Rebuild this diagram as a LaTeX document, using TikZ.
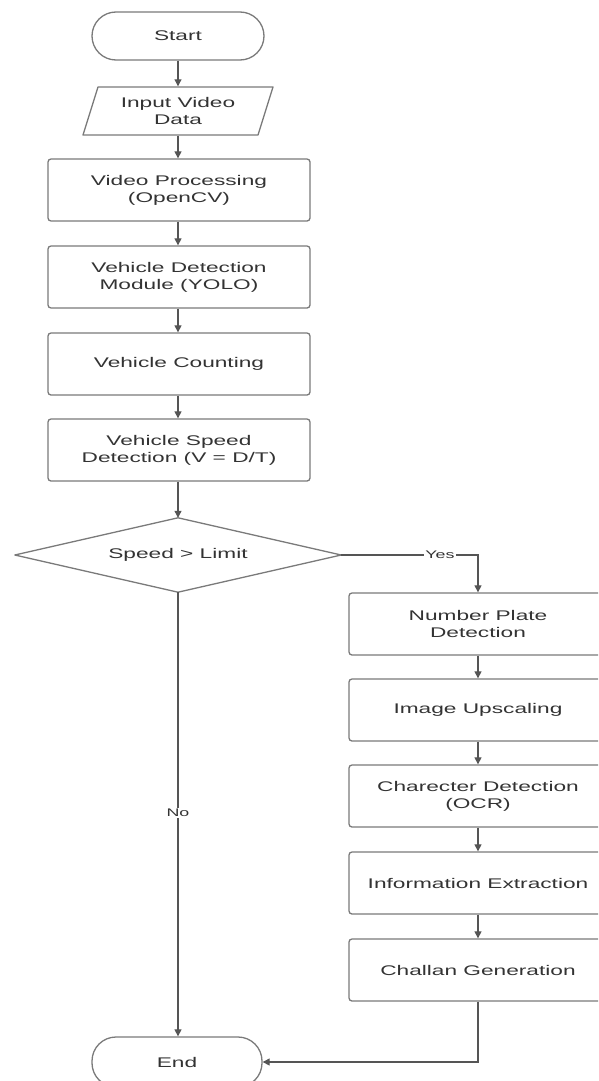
\documentclass[tikz,border=0pt]{standalone}
\usepackage{fontspec}
\setmainfont{Liberation Sans}[FakeStretch=1.62]
\usetikzlibrary{arrows.meta}
\definecolor{edge}{HTML}{7A7A7A}
\definecolor{wire}{HTML}{555555}
\definecolor{ink}{HTML}{333333}
\begin{document}
\begin{tikzpicture}[x=1pt,y=-1pt,
  every node/.style={font=\fontsize{14}{17}\selectfont, text=ink, align=center, inner sep=0pt},
  proc/.style={draw=edge, line width=1.3pt, rounded corners=3pt, minimum height=62pt},
  lproc/.style={proc, minimum width=262pt},
  rproc/.style={proc, minimum width=258pt},
  term/.style={draw=edge, line width=1.3pt, rounded corners=24pt, minimum width=172pt, minimum height=48pt},
  conn/.style={draw=wire, line width=1.1pt, -{Triangle[length=7pt,width=7pt]}},
  lbl/.style={fill=white, inner sep=1.5pt, font=\fontsize{11}{13}\selectfont}
]
\useasboundingbox (0,0) rectangle (598,1081);
\clip (0,0) rectangle (598,1081);
\node[term] (start) at (178,36) {Start};
\node[minimum width=180pt, minimum height=49pt] (input) at (178,111) {Input Video\\Data};
\draw[edge, line width=1.3pt, line join=round] (98,87) -- (273,87) -- (258,135) -- (83,135) -- cycle;
\node[lproc] (vp) at (179,190) {Video Processing\\(OpenCV)};
\node[lproc] (vd) at (179,277) {Vehicle Detection\\Module (YOLO)};
\node[lproc] (vc) at (179,364) {Vehicle Counting};
\node[lproc] (vs) at (179,450) {Vehicle Speed\\Detection (V = D/T)};
\node[minimum width=326pt, minimum height=74pt] (dec) at (178,555) {Speed > Limit};
\draw[edge, line width=1.3pt, line join=round] (dec.north) -- (dec.east) -- (dec.south) -- (dec.west) -- cycle;
\node[rproc] (np) at (478,624) {Number Plate\\Detection};
\node[rproc] (iu) at (478,710) {Image Upscaling};
\node[rproc] (cd) at (478,796) {Charecter Detection\\(OCR)};
\node[rproc] (ie) at (478,883) {Information Extraction};
\node[rproc] (cg) at (478,970) {Challan Generation};
\node[term, minimum width=170pt, minimum height=50pt] (end) at (177,1062) {End};
\coordinate (yk) at (478,555);
\coordinate (ck) at (478,1062);

\draw[conn] (start) -- (start|-input.north);
\draw[conn] (input.south) -- (input.south|-vp.north);
\draw[conn] (vp.south-|178,0) -- (178,0|-vd.north);
\draw[conn] (vd.south-|178,0) -- (178,0|-vc.north);
\draw[conn] (vc.south-|178,0) -- (178,0|-vs.north);
\draw[conn] (vs.south-|178,0) -- (dec.north);
\draw[conn] (dec.east) -- (yk) -- (np.north);
\draw[conn] (np) -- (iu);
\draw[conn] (iu) -- (cd);
\draw[conn] (cd) -- (ie);
\draw[conn] (ie) -- (cg);
\draw[conn] (cg.south) -- (ck) -- (end.east);
\draw[conn] (dec.south) -- (dec.south|-end.north);
\node[lbl] at (440,555) {Yes};
\node[lbl] at (178,813) {No};
\end{tikzpicture}
\end{document}
